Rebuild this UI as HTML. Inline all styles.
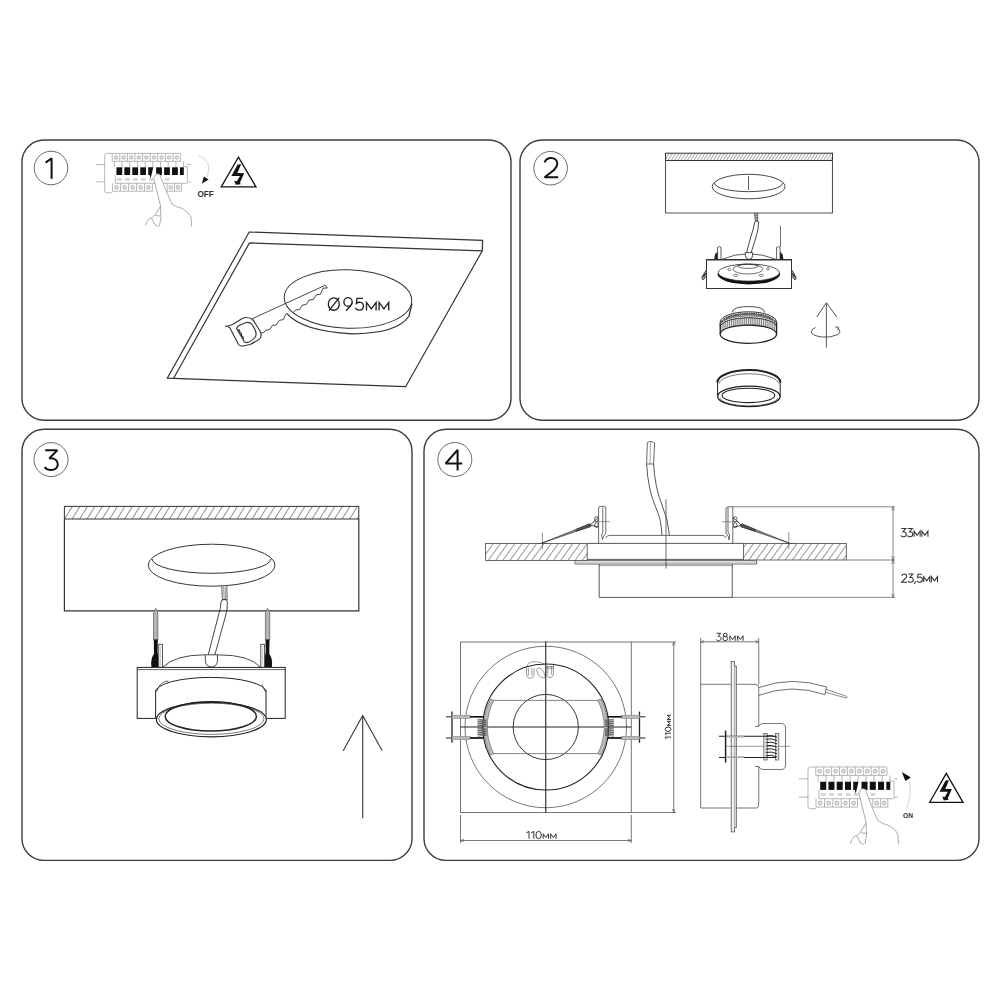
<!DOCTYPE html>
<html><head><meta charset="utf-8">
<style>
html,body{margin:0;padding:0;background:#fff;width:1000px;height:1000px;overflow:hidden}
svg{display:block}
text{font-family:"Liberation Sans",sans-serif}
</style></head><body>
<svg width="1000" height="1000" viewBox="0 0 1000 1000">
<defs>
<pattern id="hatch" patternUnits="userSpaceOnUse" width="5.85" height="10" patternTransform="translate(485.6,543.4) rotate(36)">
<line x1="0" y1="-1" x2="0" y2="11" stroke="#333" stroke-width="1"/>
</pattern>
<pattern id="hatch3" patternUnits="userSpaceOnUse" width="6.36" height="10" patternTransform="translate(64.4,506.4) rotate(32)">
<line x1="0" y1="-1" x2="0" y2="11" stroke="#222" stroke-width="1"/>
</pattern>
<pattern id="hatchs" patternUnits="userSpaceOnUse" width="2.75" height="10" patternTransform="translate(665.5,153.2) rotate(32)">
<line x1="0" y1="-1" x2="0" y2="11" stroke="#222" stroke-width="0.8"/>
</pattern>

<g id="brk"><g fill="none" stroke="#9a9a9a" stroke-width="0.7">
<path d="M112.2,153.4 L107,153.4 Q104.7,153.4 104.7,156 L104.7,190.5 Q104.7,192.8 107,192.8 L112.4,192.8"/>
<path d="M96,164.6 L104.7,164.6 M96,181.8 L104.7,181.8 M187.4,164.6 L191,164.6 M187.4,182 L191,182"/>
<path d="M112.2,161.3 L112.2,154 Q112.2,153.4 113.2,153.4 L180,153.4 Q180.6,153.4 180.6,154 L180.6,161.3 Z"/>
<path d="M119.8,153.4 L119.8,161.3"/>
<path d="M127.4,153.4 L127.4,161.3"/>
<path d="M135,153.4 L135,161.3"/>
<path d="M142.6,153.4 L142.6,161.3"/>
<path d="M150.2,153.4 L150.2,161.3"/>
<path d="M157.8,153.4 L157.8,161.3"/>
<path d="M165.4,153.4 L165.4,161.3"/>
<path d="M173,153.4 L173,161.3"/>
<circle cx="116" cy="157.4" r="1.75" fill="#e4e4e4"/>
<circle cx="123.6" cy="157.4" r="1.75" fill="#e4e4e4"/>
<circle cx="131.2" cy="157.4" r="1.75" fill="#e4e4e4"/>
<circle cx="138.8" cy="157.4" r="1.75" fill="#e4e4e4"/>
<circle cx="146.4" cy="157.4" r="1.75" fill="#e4e4e4"/>
<circle cx="154" cy="157.4" r="1.75" fill="#e4e4e4"/>
<circle cx="161.6" cy="157.4" r="1.75" fill="#e4e4e4"/>
<circle cx="169.2" cy="157.4" r="1.75" fill="#e4e4e4"/>
<circle cx="176.8" cy="157.4" r="1.75" fill="#e4e4e4"/>
<path d="M114.4,161.3 L114.4,167 M183.6,161.3 L183.6,167"/>
<path d="M122.09,161.3 L122.09,167"/>
<path d="M129.78,161.3 L129.78,167"/>
<path d="M137.47,161.3 L137.47,167"/>
<path d="M145.16,161.3 L145.16,167"/>
<path d="M152.84,161.3 L152.84,167"/>
<path d="M160.53,161.3 L160.53,167"/>
<path d="M168.22,161.3 L168.22,167"/>
<path d="M175.91,161.3 L175.91,167"/>
<path d="M183.6,166.7 L187.4,166.7 L187.4,182"/>
<path d="M115.3,175 L115.3,183.3 L187.4,183.3"/>
<rect x="117.7" y="178.6" width="3.6" height="1.6" fill="#ddd" stroke="#bbb" stroke-width="0.5"/>
<rect x="125.65" y="178.6" width="3.6" height="1.6" fill="#ddd" stroke="#bbb" stroke-width="0.5"/>
<rect x="133.6" y="178.6" width="3.6" height="1.6" fill="#ddd" stroke="#bbb" stroke-width="0.5"/>
<rect x="141.55" y="178.6" width="3.6" height="1.6" fill="#ddd" stroke="#bbb" stroke-width="0.5"/>
<rect x="149.5" y="178.6" width="3.6" height="1.6" fill="#ddd" stroke="#bbb" stroke-width="0.5"/>
<rect x="165.4" y="178.6" width="3.6" height="1.6" fill="#ddd" stroke="#bbb" stroke-width="0.5"/>
<path d="M112.4,183.3 L112.4,191.2 L152.4,191.2 L152.4,183.3"/>
<path d="M120.6,183.3 L120.6,191.2"/>
<path d="M128.6,183.3 L128.6,191.2"/>
<path d="M136.6,183.3 L136.6,191.2"/>
<path d="M144.6,183.3 L144.6,191.2"/>
<path d="M167.1,183.3 L167.1,191.2 L181.5,191.2 L181.5,183.3 M174.5,183.3 L174.5,191.2"/>
<circle cx="116.5" cy="187.4" r="1.8" fill="#e4e4e4"/>
<circle cx="124.6" cy="187.4" r="1.8" fill="#e4e4e4"/>
<circle cx="132.6" cy="187.4" r="1.8" fill="#e4e4e4"/>
<circle cx="140.6" cy="187.4" r="1.8" fill="#e4e4e4"/>
<circle cx="148.5" cy="187.4" r="1.8" fill="#e4e4e4"/>
<circle cx="170.8" cy="187.4" r="1.8" fill="#e4e4e4"/><circle cx="178" cy="187.4" r="1.8" fill="#e4e4e4"/>
</g>
<g fill="#111">
<rect x="116.4" y="167.3" width="5.8" height="7.7"/>
<rect x="124.35" y="167.3" width="5.8" height="7.7"/>
<rect x="132.3" y="167.3" width="5.8" height="7.7"/>
<rect x="140.25" y="167.3" width="5.8" height="7.7"/>
<path d="M148.2,167.3 L153.2,167.3 L152.2,172 L150.6,178.5 L149.7,175 L148.2,175 Z"/>
<rect x="156.15" y="167.3" width="5.8" height="7.7"/>
<rect x="164.1" y="167.3" width="5.8" height="7.7"/>
<rect x="172.05" y="167.3" width="5.8" height="7.7"/>
<rect x="180" y="167.3" width="3.8" height="7.7"/>
</g>
<g fill="#fff" stroke="#8a8a8a" stroke-width="0.7" stroke-linejoin="round">
<path d="M153.6,178.2 Q155.5,173 158.6,174 Q161.6,175.2 160.8,177.4 L167,193 L172,204 Q176,207 182.4,208.6 Q189,212 191.2,217.4 L191.6,227 L159,227 L161,217.6 L160.4,205 L156.6,190 Z" stroke="none"/>
<path d="M153.6,178.2 Q155.5,173 158.6,174 Q161.6,175.2 160.8,177.4" fill="none"/>
<path d="M153.8,178.4 L156.6,190 L160.4,205 L161,217.6 L159.4,226" fill="none"/>
<path d="M160.8,177.4 L167,193 L172,204 Q176,207 182.4,208.6 Q189,212 191.2,217.4 L191.6,226.4" fill="none"/>
<path d="M160.4,206.4 L155.2,214.8 L151.6,218 Q148,218 145.4,225.6 M151.6,218 L155,225 L158.5,226.5 M155.4,215.5 L160.5,216" fill="none"/>
</g></g>
</defs>
<g fill="none" stroke="#3c3c3c" stroke-width="1.4">
<rect x="22" y="140" width="489" height="280.3" rx="22"/>
<rect x="520" y="140" width="459" height="280.3" rx="22"/>
<rect x="22" y="429.2" width="390" height="431.2" rx="22"/>
<rect x="424" y="429.2" width="555" height="431.2" rx="22"/>
</g>
<g fill="none" stroke="#6a6a6a" stroke-width="1">
<circle cx="51" cy="168" r="16.8"/>
<circle cx="550.6" cy="168.2" r="16.8"/>
<circle cx="51" cy="459.6" r="17"/>
<circle cx="454.8" cy="459.5" r="17"/>
</g>
<g fill="none" stroke="#111" stroke-width="2" stroke-linejoin="bevel">
<path d="M45.6,162.6 L51.6,158.4 L51.6,178.8"/>
<path d="M544.6,162.3 C545.8,159.2 548.3,157.9 551,157.9 C555,157.9 557.3,160.7 557.3,163.7 C557.3,166 556,168 554,170 L544.6,177.2 L558.2,177.2"/>
<path d="M45.2,450.2 L57.3,450.2 L49.3,458.4 C54.8,457.8 57.8,460.8 57.8,464.3 C57.8,467.8 55,470.1 51,470.1 C48.2,470.1 46,469 44.6,467.2"/>
<path d="M457.6,470.4 L457.6,449.8 L445.6,463.5 L462.2,463.5"/>
</g>

<use href="#brk"/>
<path d="M198.25,155.5 Q208.8,159.5 208.8,168 Q208.6,173.5 206.4,177.4" fill="none" stroke="#c8c8c8" stroke-width="0.8"/>
<path d="M203.8,176.4 L208.6,179.6 L201.9,183.8 Z" fill="#111"/>
<text x="197.4" y="197" font-size="8.2" font-weight="bold" fill="#333">OFF</text>
<path d="M238.4,157.2 L256,186.8 L221.2,186.8 Z" fill="none" stroke="#111" stroke-width="1.3" stroke-linejoin="miter"/>
<path d="M237.6,164.4 L241.2,164.3 L237.4,173 L244.2,173.2 L240,182.6 L240.8,184.2 L235.8,184.8 L234.2,180.8 L236.8,181.3 L240,175.9 L231.4,175.9 Z" fill="#111"/>
<g fill="none" stroke="#333" stroke-width="1.2" stroke-linejoin="miter">
<path d="M249.2,232 L482.6,240.3 L482.3,250.8 L405.6,386.7 L167.3,378.2 Z"/>
<path d="M249.5,242.9 L482.3,250.8 M249.5,242.9 L173.6,378.2"/>
</g>
<g fill="none" stroke="#333" stroke-width="1">
<ellipse cx="348" cy="299" rx="63.8" ry="29.3" transform="rotate(1.8 348 299)" fill="#fff"/>
<path d="M287,313.6 Q302,331 352,333.8 Q398,333.5 409,316 L412,303.5" stroke-width="1.3"/>
</g>
<g fill="none" stroke="#222" stroke-width="1.35" stroke-linecap="butt" stroke-linejoin="miter">
<ellipse cx="333.85" cy="304.05" rx="5.5" ry="6.2"/>
<path d="M329,310.6 L339.2,297.6"/>
<ellipse cx="348.05" cy="301.9" rx="4.15" ry="4.3"/><path d="M352.1,302.6 Q351.6,304.5 350,306.5 L346,310.8"/>
<path d="M363,298.3 L357,298.3 L356.4,303.4 Q357.8,302.2 359.4,302.2 Q363.4,302.4 363.4,306.2 Q363.4,310.1 359.2,310.1 Q356.6,310.1 355.2,308.2"/>
<path d="M366.5,310.6 L366.5,302.4 L371.3,308.8 L376.1,302.4 L376.1,310.6"/>
<path d="M379.1,310.6 L379.1,302.4 L383.9,308.8 L388.7,302.4 L388.7,310.6"/>
</g>
<g fill="none" stroke="#333" stroke-width="0.9" stroke-linejoin="round">
<path d="M252.5,318.6 L325.4,285.2 L327.4,288 L323,288.2 L320.4,294.4 L316.2,294.8 L313.4,299.4 L309.2,300 L306.4,304.4 L302.2,305.2 L299.6,309.4 L295.6,310 L292.8,313"/>
<path d="M287.2,313.2 L285.6,314.4 L283.4,319.6 L279.2,320.4 L276.4,324.8 L272.4,325.4 L269.8,329.6 L265.8,330.2 L263.4,332.8 L261.4,332.8"/>
<path d="M225.5,326.25 Q229,326.2 232.5,324.5 L241,319.25 Q243.5,317.5 245.5,317.5 Q249.5,317.5 252,319 Q254,320.5 255,323 L260,331 Q261.5,334 261,336 Q260.5,338.4 259,339.5 Q254,342.5 250,344.5 L243,346 Q239.8,346.4 238.5,344.5 L230,328 Q228.6,326.4 225.5,326.25 Z" stroke-width="1.15"/>
<path d="M236.5,328.5 Q237.4,326.2 240,325 L245.5,322.8 Q249.8,321.6 252,324.5 L255.2,330 Q257,334.5 255,337.5 Q252.5,340.5 249,342 Q246.2,343 244.5,342 Z" stroke-width="1.15"/>
<path d="M237.2,329.6 L239.6,330.2 L239.8,332.4 L241.4,333.6 L241.4,335.8 L243,337 L243.4,339.4" stroke-width="1.3"/>
</g>
<g fill="none" stroke="#333" stroke-width="1">
<rect x="665.5" y="153.2" width="167" height="7.3" fill="url(#hatchs)"/>
<path d="M665.5,160.5 L665.5,213 L832.5,213 L832.5,160.5" stroke="#555" stroke-width="1.1"/>
<ellipse cx="748.6" cy="186.55" rx="36.4" ry="12.25" stroke-width="0.9"/>
<path d="M714.6,183.2 A33.8,8.4 0 0 0 782.6,183.2" stroke-width="0.9"/>
<path d="M748.5,176 L748.5,190" stroke-width="0.8"/>
</g>
<g fill="none" stroke="#333" stroke-width="0.9">
<path d="M754.3,213.4 L757.8,213.4 L757.8,220.4 L755.4,221 Z" fill="#bbb" stroke-width="0.6"/>
<path d="M755,215.5 L757.6,215.5 M755.2,217.3 L757.6,217.3 M755.4,219 L757.6,219" stroke-width="0.5"/>
<path d="M754.7,221.8 Q756.6,220.6 758.6,221.8 M754.7,221.8 Q753.8,229 751,236 L746.6,252.6 M758.6,221.8 Q758.6,229.5 756.2,236.5 L751.2,252.6" stroke-width="0.9"/>
<path d="M721.5,259.5 Q748,248 776.5,259.5" stroke-width="0.8"/>
<path d="M745.3,252.6 L745.3,255.5 Q745.8,259.4 749,259.4 Q752.5,259.4 752.6,255.5 L752.6,252.6 Z" fill="#fff"/>
<path d="M780.5,226 L780.5,247" stroke-width="0.7"/>
<path d="M717.6,259 L717.6,247.4 Q719.3,245.8 721,247.4 L721,259 M776.6,259 L776.6,247.4 Q778.3,245.8 780,247.4 L780,259" stroke-width="0.8"/>
<path d="M714.2,259 L715,254.2 L717.6,251.8 L717.6,259 Z M783.4,259 L782.6,254.2 L780,251.8 L780,259 Z" fill="#222" stroke="none"/>
<rect x="706.5" y="259.5" width="85" height="29" fill="#fff" stroke-width="1"/>
<path d="M706.5,259.8 L791.5,259.8" stroke-width="1.5"/>
<path d="M706.5,269.5 L702,277 Q701.6,280 703.4,279.8 L706.5,275.5 Z M791.5,269.5 L796,277 Q796.4,280 794.6,279.8 L791.5,275.5 Z" fill="#aaa" stroke-width="0.9"/>
<path d="M703.2,276.6 L705.6,273.6 M794.8,276.6 L792.4,273.6" stroke="#222" stroke-width="1.2"/>
<ellipse cx="748.8" cy="274.2" rx="31.2" ry="10.2" fill="#111" stroke="none"/>
<ellipse cx="748.8" cy="272.6" rx="30.6" ry="8.5" fill="#fff" stroke-width="0.8"/>
<ellipse cx="748" cy="269.2" rx="15" ry="4.8" stroke-width="0.7"/>
<ellipse cx="748" cy="266.2" rx="10" ry="2.2" stroke-width="0.7"/>
<ellipse cx="729.4" cy="269.6" rx="1.6" ry="1.1" stroke-width="0.6"/><ellipse cx="768" cy="268.8" rx="1.4" ry="1.2" stroke-width="0.6"/><ellipse cx="735.8" cy="275.4" rx="2.2" ry="1.1" stroke-width="0.6"/><ellipse cx="761.2" cy="275.4" rx="2.2" ry="1.1" stroke-width="0.6"/>
</g>
<g fill="none" stroke="#222" stroke-width="1">
<path d="M732.1,312.5 Q733,306.5 748.4,306.5 Q764,306.5 764.7,312.5" stroke-width="0.8" fill="#fff"/>
<path d="M720.2,322.2 A28.2,10.4 0 0 1 776.6,322.2 L776.6,325.6 A28.2,9.6 0 0 0 720.2,325.6 Z" fill="#f4f4f4" stroke="none"/>
<g stroke="#222" stroke-width="0.7" fill="#999"><ellipse cx="722.19" cy="321.43" rx="0.85" ry="1.05"/><ellipse cx="724.47" cy="319.37" rx="0.85" ry="1.05"/><ellipse cx="726.74" cy="318.05" rx="0.85" ry="1.05"/><ellipse cx="729.02" cy="317.06" rx="0.85" ry="1.05"/><ellipse cx="731.3" cy="316.28" rx="0.85" ry="1.05"/><ellipse cx="733.58" cy="315.66" rx="0.85" ry="1.05"/><ellipse cx="735.86" cy="315.16" rx="0.85" ry="1.05"/><ellipse cx="738.14" cy="314.76" rx="0.85" ry="1.05"/><ellipse cx="740.42" cy="314.45" rx="0.85" ry="1.05"/><ellipse cx="742.7" cy="314.23" rx="0.85" ry="1.05"/><ellipse cx="744.98" cy="314.08" rx="0.85" ry="1.05"/><ellipse cx="747.26" cy="314.01" rx="0.85" ry="1.05"/><ellipse cx="749.54" cy="314.01" rx="0.85" ry="1.05"/><ellipse cx="751.82" cy="314.08" rx="0.85" ry="1.05"/><ellipse cx="754.1" cy="314.23" rx="0.85" ry="1.05"/><ellipse cx="756.38" cy="314.45" rx="0.85" ry="1.05"/><ellipse cx="758.66" cy="314.76" rx="0.85" ry="1.05"/><ellipse cx="760.94" cy="315.16" rx="0.85" ry="1.05"/><ellipse cx="763.22" cy="315.66" rx="0.85" ry="1.05"/><ellipse cx="765.5" cy="316.28" rx="0.85" ry="1.05"/><ellipse cx="767.78" cy="317.06" rx="0.85" ry="1.05"/><ellipse cx="770.06" cy="318.05" rx="0.85" ry="1.05"/><ellipse cx="772.33" cy="319.37" rx="0.85" ry="1.05"/><ellipse cx="774.61" cy="321.43" rx="0.85" ry="1.05"/></g>
<path d="M720.2,322.2 A28.2,10.4 0 0 1 776.6,322.2" stroke-width="0.9"/>
<path d="M720.2,325.6 A28.2,9.6 0 0 1 776.6,325.6 L776.6,327 A28.2,9.3 0 0 0 720.2,327 Z" fill="#fff" stroke="none"/>
<path d="M720.2,325.6 A28.2,9.6 0 0 1 776.6,325.6" stroke-width="0.6"/>
<path d="M720.2,327 A28.2,9.3 0 0 1 776.6,327 L776.6,334.2 A28.2,9.1 0 0 0 720.2,334.2 Z" fill="#777" stroke="none"/>
<path d="M721.14,325.02 L721.14,331.47 M723.02,323.35 L723.02,329.83 M724.9,322.26 L724.9,328.77 M726.78,321.43 L726.78,327.96 M728.66,320.76 L728.66,327.3 M730.54,320.2 L730.54,326.76 M732.42,319.74 L732.42,326.3 M734.3,319.35 L734.3,325.92 M736.18,319.02 L736.18,325.6 M738.06,318.75 L738.06,325.33 M739.94,318.53 L739.94,325.12 M741.82,318.36 L741.82,324.95 M743.7,318.23 L743.7,324.83 M745.58,318.15 L745.58,324.75 M747.46,318.11 L747.46,324.71 M749.34,318.11 L749.34,324.71 M751.22,318.15 L751.22,324.75 M753.1,318.23 L753.1,324.83 M754.98,318.36 L754.98,324.95 M756.86,318.53 L756.86,325.12 M758.74,318.75 L758.74,325.33 M760.62,319.02 L760.62,325.6 M762.5,319.35 L762.5,325.92 M764.38,319.74 L764.38,326.3 M766.26,320.2 L766.26,326.76 M768.14,320.76 L768.14,327.3 M770.02,321.43 L770.02,327.96 M771.9,322.26 L771.9,328.77 M773.78,323.35 L773.78,329.83 M775.66,325.02 L775.66,331.47" stroke="#f2f2f2" stroke-width="0.95"/>
<path d="M720.2,327 A28.2,9.3 0 0 1 776.6,327" stroke-width="0.9"/>
<path d="M720.2,322.2 L720.2,334.2 M776.6,322.2 L776.6,334.2" stroke-width="1.3"/>
<ellipse cx="748.4" cy="334.2" rx="28.2" ry="9.1" fill="#fff" stroke-width="1.25"/>
</g>
<g fill="none" stroke="#444" stroke-width="0.9">
<path d="M826.4,303 L826.4,347.6 M816.8,317 L826.4,302.8 L836.8,317"/>
<path d="M837.5,328 Q842,331 838,334.5 Q830,338 822,337 Q811,335.5 811.3,331.5 Q811.6,329 815.5,327.5"/>
<path d="M835,327 L838.6,327.2 L838,330.5" stroke-width="0.8"/>
</g>
<g fill="none" stroke="#222" stroke-width="1">
<path d="M717.6,382.2 L717.6,396.4 M780.2,382.2 L780.2,396.4" stroke-width="1"/>
<ellipse cx="748.9" cy="396.4" rx="31.2" ry="10.2" stroke-width="1.3"/>
<ellipse cx="748.4" cy="395.4" rx="26.4" ry="7.2" stroke-width="1.1"/>
<path d="M720,398 A29,8.6 0 0 0 777.8,398" stroke-width="0.6"/>
<path d="M717.4,382.4 A31.3,12.2 0 0 1 780.4,382.4" stroke-width="2"/>
<path d="M719,383.5 A30,10.6 0 0 1 778.8,383.5" stroke-width="0.6"/>
</g>
<g fill="none" stroke="#333" stroke-width="1">
<rect x="64.4" y="506.4" width="294.4" height="12.6" fill="url(#hatch3)"/>
<path d="M64.4,519 L64.4,610.8 L358.8,610.8 L358.8,519" stroke-width="1.2"/>
<ellipse cx="211.6" cy="565.2" rx="63.4" ry="21" stroke-width="1"/>
<path d="M152,558.7 A59.5,14.6 0 0 0 271,558.7" stroke-width="1"/>
</g>
<g fill="none" stroke="#333" stroke-width="0.9">
<path d="M221.8,586.2 L222.4,599.6 L227.2,599.6 L226.8,586.2" stroke-width="0.8"/>
<path d="M223.6,587 L224.2,599 M225.2,587 L225.6,599" stroke-width="0.5"/>
<path d="M221,602 Q221.6,599.4 224.2,599.4 Q227.4,599.4 227.4,602 M221,602 Q220.6,609 218.8,614 L208.2,655 M227.4,602 Q227.4,610 225.8,615 L214.8,655"/>
<path d="M162.8,667.2 Q175,654.8 205.3,654.8 M217.5,654.8 Q250,654.8 260.4,667.2"/>
<path d="M205.3,654.8 L205.3,660.5 Q206,667 211.4,667 Q217,667 217.5,660.5 L217.5,654.8 Z" fill="#fff"/>
<path d="M155.7,608.3 L157.9,613 L157.9,640 L153.5,640 L153.5,613 Z" fill="#b4b4b4" stroke="#444" stroke-width="0.6"/>
<path d="M153.8,639.5 L157.8,639.5 L157.6,652 Q159,658 158.4,667 L151.4,667 Q150.4,658 154,654 Z" fill="#111" stroke="none"/>
<rect x="158.75" y="644.3" width="3.75" height="23" fill="#fff" stroke="#333" stroke-width="0.8"/>
<path d="M160.6,646 L160.6,666" stroke="#999" stroke-width="0.5"/>
<path d="M267.6,608.3 L265.4,613 L265.4,640 L269.8,640 L269.8,613 Z" fill="#b4b4b4" stroke="#444" stroke-width="0.6"/>
<path d="M269.5,639.5 L265.5,639.5 L265.7,652 Q264.3,658 264.9,667 L271.9,667 Q272.9,658 269.3,654 Z" fill="#111" stroke="none"/>
<rect x="260.8" y="644.3" width="3.75" height="23" fill="#fff" stroke="#333" stroke-width="0.8"/>
<path d="M262.7,646 L262.7,666" stroke="#999" stroke-width="0.5"/>
</g>
<g fill="none" stroke="#222" stroke-width="1">
<rect x="137.2" y="667.4" width="148" height="51" fill="#fff"/>
<path d="M137.2,669.6 L285.2,669.6" stroke-width="0.7"/>
<path d="M155.6,690 L155.6,717 A55.2,18 0 0 0 266,717 L266,690 Z" fill="#fff" stroke="none"/>
<path d="M155.6,690 L155.6,718 M266,690 L266,718"/>
<path d="M155.6,692 A55.2,14.6 0 0 1 266,692" fill="#fff"/>
<path d="M157,691 Q160,681 168.5,681" stroke-width="0.7"/><path d="M265,691 Q263,687 262,684.5" stroke-width="0.7"/>
<ellipse cx="211.4" cy="719.6" rx="55" ry="17.2" fill="#fff" stroke-width="1.2"/>
<ellipse cx="211.4" cy="718.8" rx="52.6" ry="15.6" stroke-width="0.6"/>
<ellipse cx="210.8" cy="716.4" rx="45.6" ry="14.6" stroke-width="1.5"/>
</g>
<path d="M362.7,715.5 L362.7,818.2 M343.2,750.7 L362.7,715.5 L382.2,750.7" fill="none" stroke="#444" stroke-width="1.2"/>
<g fill="none" stroke="#444" stroke-width="0.8">
<rect x="485.6" y="543.4" width="101.6" height="17" fill="url(#hatch)"/>
<rect x="743.6" y="543.4" width="102.7" height="16.6" fill="url(#hatch)"/>
<path d="M587.2,543.4 L743.6,543.4 M587.2,559.4 L743.6,559.4" stroke-width="0.9"/>
<path d="M575.2,560.6 L756.6,560.6 L756.6,564 L575.2,564 Q574.2,562.3 575.2,560.6 Z" stroke-width="0.8" fill="#fff"/>
<path d="M575.6,562.2 L756,562.2" stroke="#aaa" stroke-width="0.8"/>
<path d="M599.2,564 L599.2,597.4 L732.2,597.4 L732.2,564" stroke-width="0.9"/>
<path d="M599.2,565.6 L732.2,565.6" stroke-width="0.5"/>
<path d="M605.8,538 Q606.5,535.4 610,535.4 L722,535.4 Q725.5,535.4 726,538" stroke-width="0.8"/>
<path d="M666,499.3 L666,568.6" stroke-width="0.8"/>
<path d="M646.6,464 L647.4,442.6 Q649.5,441 652,441.6 L654.6,443 L653.6,464 Z" stroke-width="0.8"/>
<path d="M650.4,442.4 L650,464" stroke-width="0.5"/>
<path d="M646.6,464 Q648,490 656,508 Q661.5,520 662,535.4 M653.6,464 Q655,488 662,505 Q668.5,520 669.4,535.4" stroke-width="0.9"/>
<path d="M598.6,543.4 L598.6,508 Q598.6,506.4 600.2,506.4 L604.2,506.4 Q605.8,506.4 605.8,508 L605.8,533 L603.4,537 L602.4,539.5 L601.6,535 L602.8,532 L602.8,507.5" stroke-width="0.8"/>
<path d="M732.8,543.4 L732.8,506.8 L728,506.8 Q726,506.8 726,509 L726,533 L728.4,537 L729,540 L729.6,535 L728,532 L728,507.5" stroke-width="0.8"/>
<path d="M541.6,543.2 L590.62,526.36 L589.71,523.92 Z" fill="#999" stroke="#333" stroke-width="0.7"/>
<path d="M576.42,531.21 L590.72,526.64 L589.61,523.64 L575.79,529.52 Z" fill="#555" stroke="#333" stroke-width="0.6"/>
<path d="M590.16,525.14 L598.6,517 M590.16,525.14 L598.6,527" stroke="#333" stroke-width="0.9"/>
<ellipse cx="596.4" cy="519" rx="1.8" ry="2.6" stroke="#444" stroke-width="0.8"/><ellipse cx="596.4" cy="525" rx="1.8" ry="2.6" stroke="#444" stroke-width="0.8"/>
<path d="M789.6,543.2 L741.89,524.11 L740.99,526.55 Z" fill="#999" stroke="#333" stroke-width="0.7"/>
<path d="M755.81,529.7 L741.99,523.83 L740.88,526.83 L755.19,531.39 Z" fill="#555" stroke="#333" stroke-width="0.6"/>
<path d="M741.44,525.33 L733,517.2 M741.44,525.33 L733,527.2" stroke="#333" stroke-width="0.9"/>
<ellipse cx="735.2" cy="519.2" rx="1.8" ry="2.6" stroke="#444" stroke-width="0.8"/><ellipse cx="735.2" cy="525.2" rx="1.8" ry="2.6" stroke="#444" stroke-width="0.8"/>
<path d="M542.4,532.8 L542.4,549.6 M537,543.4 L548,543.4 M788.8,532 L788.8,549 M783,543.4 L795,543.4" stroke-width="0.6"/>
<path d="M593,521.6 L610,521.6 M722,521.8 L739,521.8" stroke-width="0.5"/>
<path d="M733,506.8 L895,506.8 M846.3,560 L895,560 M732.2,597.4 L895,597.4 M893,506.8 L893,597.4" stroke-width="0.7" stroke="#555"/>
<path d="M891.6,510.5 L893,506.8 L894.4,510.5 M891.6,556.3 L893,560 L894.4,556.3 M891.6,563.7 L893,560 L894.4,563.7 M891.6,593.7 L893,597.4 L894.4,593.7" stroke-width="0.6" stroke="#555"/>
</g>
<g fill="none" stroke="#333" stroke-width="1.05" stroke-linejoin="miter"><path d="M901.24,528.4 L905.94,528.4 L902.92,531.76 C905.1,531.42 906.28,532.77 906.28,534.28 C906.28,535.79 905.1,536.8 903.59,536.8 C902.33,536.8 901.32,536.21 900.9,535.46 M907.7,528.4 L912.41,528.4 L909.38,531.76 C911.57,531.42 912.74,532.77 912.74,534.28 C912.74,535.79 911.57,536.8 910.06,536.8 C908.8,536.8 907.79,536.21 907.37,535.46 M914.09,536.8 L914.09,531.17 L917.11,535.39 L920.14,531.17 L920.14,536.8 M921.9,536.8 L921.9,531.17 L924.92,535.39 L927.95,531.17 L927.95,536.8"/></g>
<g fill="none" stroke="#333" stroke-width="1.05" stroke-linejoin="miter"><path d="M901.77,575.75 C902.44,574.15 903.45,573.9 904.29,573.9 C905.8,573.9 906.64,574.91 906.64,576.17 C906.64,577.26 905.8,578.1 905.13,578.69 L901.6,582.3 L906.98,582.3 M908.28,573.9 L912.99,573.9 L909.96,577.26 C912.15,576.92 913.32,578.27 913.32,579.78 C913.32,581.29 912.15,582.3 910.63,582.3 C909.37,582.3 908.37,581.71 907.95,580.96 M915.64,581.12 L914.46,583.98 M921.98,574.15 L917.95,574.15 L917.62,577.6 C918.37,577.09 919.13,576.92 919.88,576.92 C921.48,576.92 922.4,578.1 922.4,579.61 C922.4,581.29 921.31,582.3 919.63,582.3 C918.46,582.3 917.53,581.71 917.11,580.96 M923.71,582.3 L923.71,576.67 L926.73,580.89 L929.76,576.67 L929.76,582.3 M931.4,582.3 L931.4,576.67 L934.42,580.89 L937.45,576.67 L937.45,582.3"/></g>
<g fill="none" stroke="#555" stroke-width="0.8">
<rect x="460.5" y="642" width="170.75" height="170.5"/>
<circle cx="545.75" cy="727" r="80.75"/>
<path d="M460.5,815 L460.5,843 M631.25,815 L631.25,843 M460.5,840.5 L631.25,840.5 M631.25,642 L676,642 M631.25,812.5 L676,812.5 M673.75,642 L673.75,812.5"/>
<path d="M464,839.1 L460.5,840.5 L464,841.9 M627.75,839.1 L631.25,840.5 L627.75,841.9 M672.35,645.5 L673.75,642 L675.15,645.5 M672.35,809 L673.75,812.5 L675.15,809" stroke-width="0.6"/>
</g>
<g fill="none" stroke="#333" stroke-width="1.0" stroke-linejoin="miter"><path d="M526.3,832.8 L529,831.45 L529,838.8 M531.1,832.8 L533.8,831.45 L533.8,838.8 M543.17,838.8 L543.17,833.77 L545.87,837.54 L548.57,833.77 L548.57,838.8 M550.67,838.8 L550.67,833.77 L553.37,837.54 L556.07,833.77 L556.07,838.8"/><ellipse cx="538.6" cy="835.05" rx="2.7" ry="3.75"/></g>
<g fill="none" stroke="#333" stroke-width="0.95" stroke-linejoin="miter" transform="rotate(-90 671 739.2)"><path d="M671,734.48 L673.12,733.42 L673.12,739.2 M674.9,734.48 L677.02,733.42 L677.02,739.2 M684.65,739.2 L684.65,735.25 L686.77,738.21 L688.9,735.25 L688.9,739.2 M690.67,739.2 L690.67,735.25 L692.8,738.21 L694.92,735.25 L694.92,739.2"/><ellipse cx="680.93" cy="736.25" rx="2.12" ry="2.95"/></g>
<g fill="none" stroke="#222" stroke-width="1.1">
<circle cx="545.75" cy="727" r="63"/>
<circle cx="545.75" cy="727" r="32.6" stroke-width="0.9"/>
<path d="M545.75,641.4 L545.75,813 M460.5,727 L631.25,727" stroke-width="1.1"/>
<path d="M491.6,700.4 L599.9,700.4 M491.6,753.6 L599.9,753.6" stroke-width="0.8" stroke="#666"/>
</g>
<path d="M490.51,698.85 L489.24,701.49 L488.1,704.18 L487.09,706.92 L486.21,709.7 L485.46,712.53 L484.85,715.38 L484.37,718.26 L484.03,721.17 L483.82,724.08 L483.75,727 L483.82,729.92 L484.03,732.83 L484.37,735.74 L484.85,738.62 L485.46,741.47 L486.21,744.3 L487.09,747.08 L488.1,749.82 L489.24,752.51 L490.51,755.15 L493.72,753.51 L492.52,751.03 L491.45,748.5 L490.5,745.92 L489.67,743.29 L488.96,740.63 L488.38,737.94 L487.93,735.23 L487.61,732.5 L487.41,729.75 L487.35,727 L487.41,724.25 L487.61,721.5 L487.93,718.77 L488.38,716.06 L488.96,713.37 L489.67,710.71 L490.5,708.08 L491.45,705.5 L492.52,702.97 L493.72,700.49 Z" fill="#bbb" stroke="#555" stroke-width="0.6"/>
<path d="M600.99,698.85 L602.26,701.49 L603.4,704.18 L604.41,706.92 L605.29,709.7 L606.04,712.53 L606.65,715.38 L607.13,718.26 L607.47,721.17 L607.68,724.08 L607.75,727 L607.68,729.92 L607.47,732.83 L607.13,735.74 L606.65,738.62 L606.04,741.47 L605.29,744.3 L604.41,747.08 L603.4,749.82 L602.26,752.51 L600.99,755.15 L597.78,753.51 L598.98,751.03 L600.05,748.5 L601,745.92 L601.83,743.29 L602.54,740.63 L603.12,737.94 L603.57,735.23 L603.89,732.5 L604.09,729.75 L604.15,727 L604.09,724.25 L603.89,721.5 L603.57,718.77 L603.12,716.06 L602.54,713.37 L601.83,710.71 L601,708.08 L600.05,705.5 L598.98,702.97 L597.78,700.49 Z" fill="#bbb" stroke="#555" stroke-width="0.6"/>
<path d="M446,716.8 L483.2,716.8 M446,738 L483.2,738" fill="none" stroke="#222" stroke-width="1"/>
<path d="M452,711.6 L452,742.8" fill="none" stroke="#222" stroke-width="1.3"/>
<rect x="452" y="715.2" width="18" height="3.2" fill="#bbb" stroke="#777" stroke-width="0.5"/>
<rect x="452" y="736.4" width="18" height="3.2" fill="#bbb" stroke="#777" stroke-width="0.5"/>
<path d="M477.5,719.2 L486.5,720.2 L477.5,721.2 L486.5,722.2 L477.5,723.2 L486.5,724.2 L477.5,725.2 L486.5,726.2 L477.5,727.2" fill="none" stroke="#555" stroke-width="0.8"/>
<path d="M477.5,728.2 L486.5,729.2 L477.5,730.2 L486.5,731.2 L477.5,732.2 L486.5,733.2 L477.5,734.2 L486.5,735.2 L477.5,736.2" fill="none" stroke="#555" stroke-width="0.8"/>
<path d="M470,716.8 L484,716.8 M470,738 L484,738" stroke="#111" stroke-width="1.6"/>
<path d="M645.5,716.8 L608.3,716.8 M645.5,738 L608.3,738" fill="none" stroke="#222" stroke-width="1"/>
<path d="M639.5,711.6 L639.5,742.8" fill="none" stroke="#222" stroke-width="1.3"/>
<rect x="621.5" y="715.2" width="18" height="3.2" fill="#bbb" stroke="#777" stroke-width="0.5"/>
<rect x="621.5" y="736.4" width="18" height="3.2" fill="#bbb" stroke="#777" stroke-width="0.5"/>
<path d="M614,719.2 L605,720.2 L614,721.2 L605,722.2 L614,723.2 L605,724.2 L614,725.2 L605,726.2 L614,727.2" fill="none" stroke="#555" stroke-width="0.8"/>
<path d="M614,728.2 L605,729.2 L614,730.2 L605,731.2 L614,732.2 L605,733.2 L614,734.2 L605,735.2 L614,736.2" fill="none" stroke="#555" stroke-width="0.8"/>
<path d="M621.5,716.8 L607.5,716.8 M621.5,738 L607.5,738" stroke="#111" stroke-width="1.6"/>
<g fill="none" stroke="#555" stroke-width="0.6">
<path d="M526.7,667 Q528,661.5 535,661.6 Q541,661.8 545,664.5"/>
<path d="M526.5,666.5 L526.5,674 Q527,678.2 530.2,678.2 Q533.6,678.2 534,674 L534,668 M528.4,668 L528.4,675.6 M531.8,668 L531.8,675.6"/>
<path d="M536.5,669.6 Q538,666.5 541,668.5 Q544.8,672 545.4,677.6 Q540.5,678.5 538,674 Z"/>
<path d="M545.9,664.5 L545.9,673 Q546.5,677.6 549.7,677.6 Q553.2,677.6 553.5,673 L553.5,664.5 M547.8,666 L547.8,674.5 M551.6,666 L551.6,674.5 M546,666.6 L553.4,666.6 M546,668.2 L553.4,668.2"/>
</g>
<g fill="none" stroke="#555" stroke-width="0.8">
<path d="M700.7,638 L700.7,808 L757,808 Q758.75,808 758.75,803 L758.75,766.5 M758.75,726.3 L758.75,688 Q758.75,684.3 755,684.3 L700.7,684.3 M758.75,638 L758.75,684.3"/>
<path d="M700.7,641.8 L758.75,641.8" />
<path d="M704.2,640.4 L700.7,641.8 L704.2,643.2 M755.25,640.4 L758.75,641.8 L755.25,643.2" stroke-width="0.6"/>
<rect x="731.2" y="661.4" width="3.2" height="170.5" fill="#eee"/>
<path d="M734.4,666 L736.4,666 L736.4,827.5 L734.4,827.5" fill="#ddd"/>
<path d="M755,726.4 L758.75,726.4 Q760,723.5 763,723.5 L781,723.5 Q785.5,723.5 785.5,728 L785.5,765 Q785.5,769.5 781,769.5 L763,769.5 Q760,769.5 758.75,766.5 L755,766.5"/>
<path d="M758.8,687.6 Q792,675.5 826.5,687 L824.8,694.6 Q792,683 758.8,695.4" stroke-width="0.85"/>
<path d="M826,689.4 L846.4,696.2 Q847.6,697.6 846.6,698.2 L825.2,692.2" stroke-width="0.7"/>
<path d="M727,746.3 L790,746.3" stroke-width="0.6"/>
<rect x="763.8" y="733.4" width="3.4" height="26.6" fill="#ddd" stroke="#555" stroke-width="0.7"/><rect x="775.4" y="733.4" width="3.4" height="26.6" fill="#ddd" stroke="#555" stroke-width="0.7"/>
</g>
<g fill="none" stroke="#222" stroke-width="1">
<path d="M725.6,730.6 L725.6,762.5" stroke-width="1.5"/>
<path d="M719,736.25 L776,736.25 M719,757.5 L776,757.5"/>
<path d="M726,736.6 L744,736.6 M726,757.1 L744,757.1" stroke="#aaa" stroke-width="1.6"/>
<path d="M766,736 Q771,734.5 777,737.2 M766,739.3 Q771,737.8 777,740.5 M766,742.6 Q771,741.1 777,743.8 M766,745.9 Q771,744.4 777,747.1 M766,749.2 Q771,747.7 777,750.4 M766,752.5 Q771,751 777,753.7 M766,755.8 Q771,754.3 777,757" stroke-width="1"/>
</g>
<g fill="none" stroke="#333" stroke-width="1.0" stroke-linejoin="miter"><path d="M716.6,633.3 L720.8,633.3 L718.1,636.3 C720.05,636 721.1,637.2 721.1,638.55 C721.1,639.9 720.05,640.8 718.7,640.8 C717.57,640.8 716.67,640.27 716.3,639.6 M729.82,640.8 L729.82,635.77 L732.52,639.54 L735.22,635.77 L735.22,640.8 M737.67,640.8 L737.67,635.77 L740.37,639.54 L743.07,635.77 L743.07,640.8"/><ellipse cx="725.27" cy="635.02" rx="1.88" ry="1.73"/><ellipse cx="725.27" cy="638.47" rx="2.33" ry="2.33"/></g>
<use href="#brk" transform="translate(808,767) scale(1.04,1.06) translate(-104.7,-153.4)"/>
<path d="M909,780.8 Q912.4,793 906.7,808.7" fill="none" stroke="#c8c8c8" stroke-width="0.8"/>
<path d="M901.8,772 L910.9,777.5 L905.4,781.1 Z" fill="#111"/>
<text x="903" y="817.9" font-size="6.6" font-weight="bold" fill="#333">ON</text>
<path d="M946.3,773.4 L963,802.3 L929.7,802.3 Z" fill="none" stroke="#111" stroke-width="1.3"/>
<g transform="translate(946.3,773.4) scale(0.96,0.98) translate(-238.4,-157.2)"><path d="M237.6,164.4 L241.2,164.3 L237.4,173 L244.2,173.2 L240,182.6 L240.8,184.2 L235.8,184.8 L234.2,180.8 L236.8,181.3 L240,175.9 L231.4,175.9 Z" fill="#111"/></g>
</svg>
</body></html>
